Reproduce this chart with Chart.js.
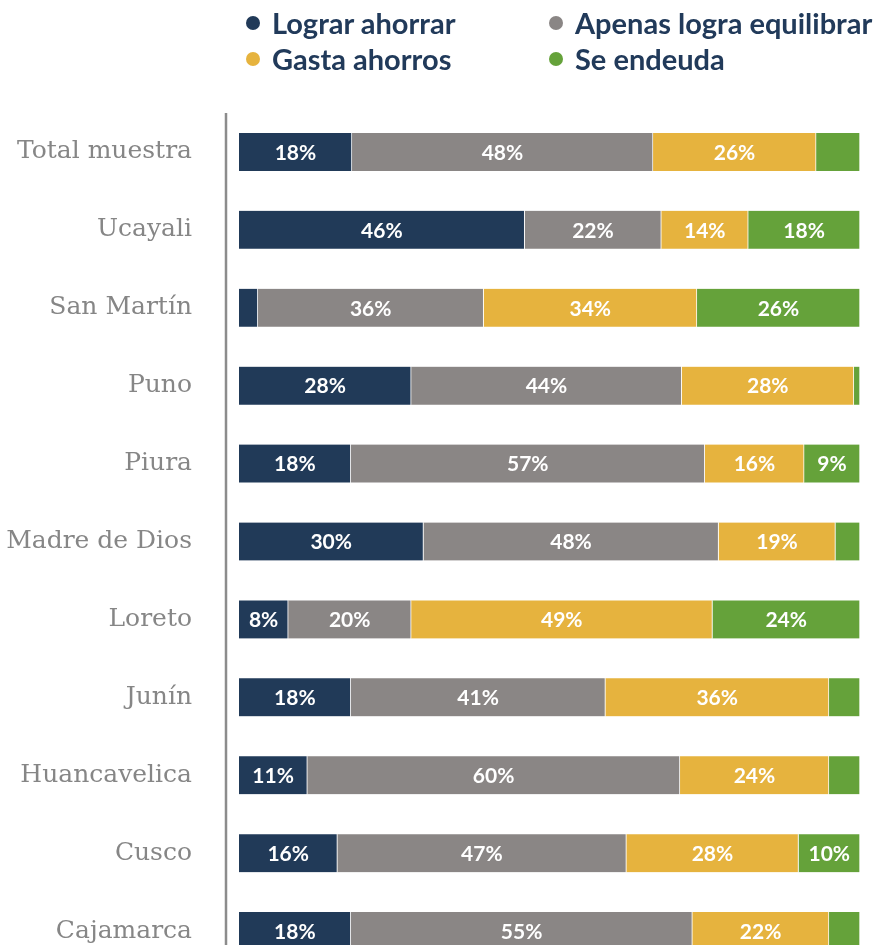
<!DOCTYPE html>
<html>
<head>
<meta charset="utf-8">
<script src="https://cdn.jsdelivr.net/npm/chart.js@4.4.1/dist/chart.umd.min.js"></script>
<style>
  html, body { margin: 0; padding: 0; background: #fff; overflow: hidden; }
  #wrap { position: relative; width: 874px; height: 945px; overflow: hidden; }
  #legend { position: absolute; left: 246px; top: 5px; display: grid; grid-template-columns: 303px 320px; row-gap: 1px;
            font-family: Lato, sans-serif; font-weight: bold; font-size: 29px; color: #213a5a; }
  #legend div { display: flex; align-items: center; height: 35px; white-space: nowrap; }
  #legend span.dot { flex: 0 0 14px; width: 14px; height: 14px; border-radius: 50%; margin-right: 12px; }
  #c { position: absolute; left: 0; top: 0; }
</style>
</head>
<body>
<div id="wrap">
  <canvas id="c" width="874" height="985"></canvas>
  <div id="legend"></div>
</div>
<script>
// regions
var regions = ['Total muestra', 'Ucayali', 'San Martín', 'Puno', 'Piura', 'Madre de Dios',
  'Loreto', 'Junín', 'Huancavelica', 'Cusco', 'Cajamarca'];

// percentages per answer
var ahorra    = [18, 46, 3, 28, 18, 30, 8, 18, 11, 16, 18];
var equilibra = [48, 22, 36, 44, 57, 48, 20, 41, 60, 47, 55];
var gasta     = [26, 14, 34, 28, 16, 19, 49, 36, 24, 28, 22];
var endeuda   = [7, 18, 26, 1, 9, 4, 24, 5, 5, 10, 5];

var seriesNames = ['Lograr ahorrar', 'Apenas logra equilibrar', 'Gasta ahorros', 'Se endeuda'];
var seriesColors = ['#213a58', '#8a8685', '#e6b33e', '#65a23a'];

var raw = [ahorra, equilibra, gasta, endeuda];

// rows don't always sum to exactly 100 (rounding), scale each row to full width
var rowSums = regions.map(function (r, i) {
  return raw.reduce(function (s, arr) { return s + arr[i]; }, 0);
});

var legendEl = document.getElementById('legend');
seriesNames.forEach(function (name, k) {
  var d = document.createElement('div');
  d.innerHTML = '<span class="dot" style="background:' + seriesColors[k] + '"></span>' + name;
  legendEl.appendChild(d);
});

var barLabels = {
  id: 'barLabels',
  afterDatasetsDraw: function (chart) {
    var ctx = chart.ctx;
    ctx.save();
    ctx.font = 'bold 21px Lato, sans-serif';
    ctx.fillStyle = '#ffffff';
    ctx.textAlign = 'center';
    ctx.textBaseline = 'middle';
    chart.data.datasets.forEach(function (ds, di) {
      var meta = chart.getDatasetMeta(di);
      meta.data.forEach(function (bar, i) {
        var v = raw[di][i];
        if (v < 8) return;
        ctx.fillText(v + '%', (bar.x + bar.base) / 2, bar.y + 1);
      });
    });
    ctx.restore();
  }
};

var leftLine = {
  id: 'leftLine',
  beforeDraw: function (chart) {
    var a = chart.chartArea, ctx = chart.ctx;
    ctx.save();
    ctx.strokeStyle = '#8c8c8c';
    ctx.lineWidth = 2.5;
    ctx.beginPath();
    ctx.moveTo(a.left - 13, a.top);
    ctx.lineTo(a.left - 13, a.bottom);
    ctx.stroke();
    ctx.restore();
  }
};

var ctx = document.getElementById('c').getContext('2d');
var myChart = new Chart(ctx, {
  type: 'bar',
  data: {
    labels: regions,
    datasets: raw.map(function (arr, k) {
      return {
        label: seriesNames[k],
        data: arr.map(function (v, i) { return v / rowSums[i] * 100; }),
        backgroundColor: seriesColors[k],
        borderColor: 'rgba(255,255,255,0.7)',
        borderWidth: { left: 0, right: 1, top: 0, bottom: 0 },
        borderSkipped: false,
        barThickness: 38
      };
    })
  },
  options: {
    responsive: false,
    animation: false,
    indexAxis: 'y',
    layout: { padding: { top: 113, right: 14, bottom: 0, left: 0 } },
    plugins: {
      legend: { display: false },
      tooltip: { enabled: false }
    },
    scales: {
      x: {
        stacked: true,
        min: 0,
        max: 100,
        display: false
      },
      y: {
        stacked: true,
        grid: { display: true, drawOnChartArea: false, drawTicks: true, tickLength: 47, color: 'rgba(0,0,0,0)' },
        border: { display: false },
        afterFit: function (scale) { scale.width = 239; },
        ticks: {
          padding: 0,
          color: '#868686',
          font: { family: 'DejaVu Serif', size: 25 }
        }
      }
    }
  },
  plugins: [barLabels, leftLine]
});
</script>
</body>
</html>
